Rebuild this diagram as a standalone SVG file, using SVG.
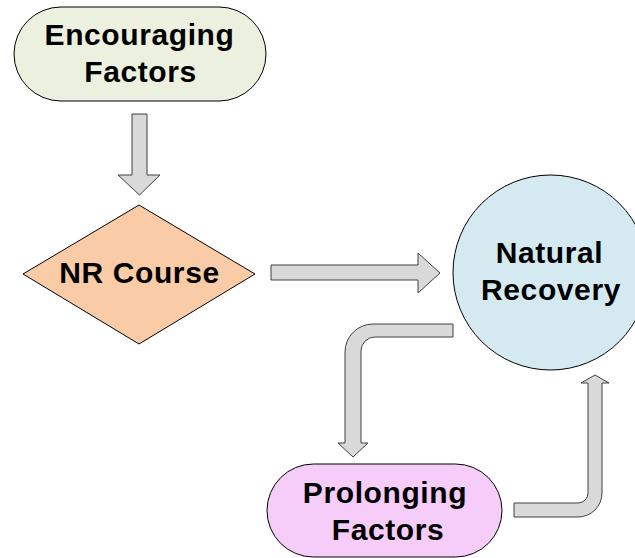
<svg xmlns="http://www.w3.org/2000/svg" width="635" height="558" viewBox="0 0 635 558">
<style>
.node{stroke:#000;stroke-width:1}
.lbl{font-family:"Liberation Sans",Arial,sans-serif;font-weight:bold;font-size:30px;letter-spacing:0.6px;fill:#000;text-anchor:middle}
.arr{fill:#d9d9d9;stroke:#404040;stroke-width:1;stroke-linejoin:miter}
</style>
<rect width="635" height="558" fill="#fff"/>
<g id="connectors">
<polygon class="arr" points="132,114 147,114 147,175 160,175 139.5,195 118,175 132,175"/>
<polygon class="arr" points="271,265 418,265 418,253 440,273 418,293 418,280 271,280"/>
<path class="arr" d="M453,324 L373,324 A28,28 0 0 0 345,352 L345,443 L338,443 L353,457 L368,443 L361,443 L361,351 A14,14 0 0 1 375,337 L453,337 Z"/>
<path class="arr" d="M514,503 L578,503 A10,10 0 0 0 588,493 L588,383 L581,383 L595,375 L609,383 L602,383 L602,493 A24,24 0 0 1 578,517 L514,517 Z"/>
</g>
<g id="encouraging">
<rect class="node" x="14" y="7" width="252" height="94" rx="47" ry="47" fill="#ebf1de"/>
<text class="lbl" x="139.5" y="45">Encouraging</text>
<text class="lbl" x="140.5" y="82">Factors</text>
</g>
<g id="nr-course">
<polygon class="node" points="23,274 139,205 255,274 139,344" fill="#f9cba6"/>
<text class="lbl" x="139.5" y="283">NR Course</text>
</g>
<g id="natural-recovery">
<circle class="node" cx="550.5" cy="272.5" r="97.5" fill="#d4eaf0"/>
<text class="lbl" x="549.5" y="263">Natural</text>
<text class="lbl" x="551" y="300">Recovery</text>
</g>
<g id="prolonging">
<rect class="node" x="267" y="464" width="235" height="93" rx="46.5" ry="46.5" fill="#f6ccf8"/>
<text class="lbl" x="385" y="503">Prolonging</text>
<text class="lbl" x="388" y="540">Factors</text>
</g>
</svg>
